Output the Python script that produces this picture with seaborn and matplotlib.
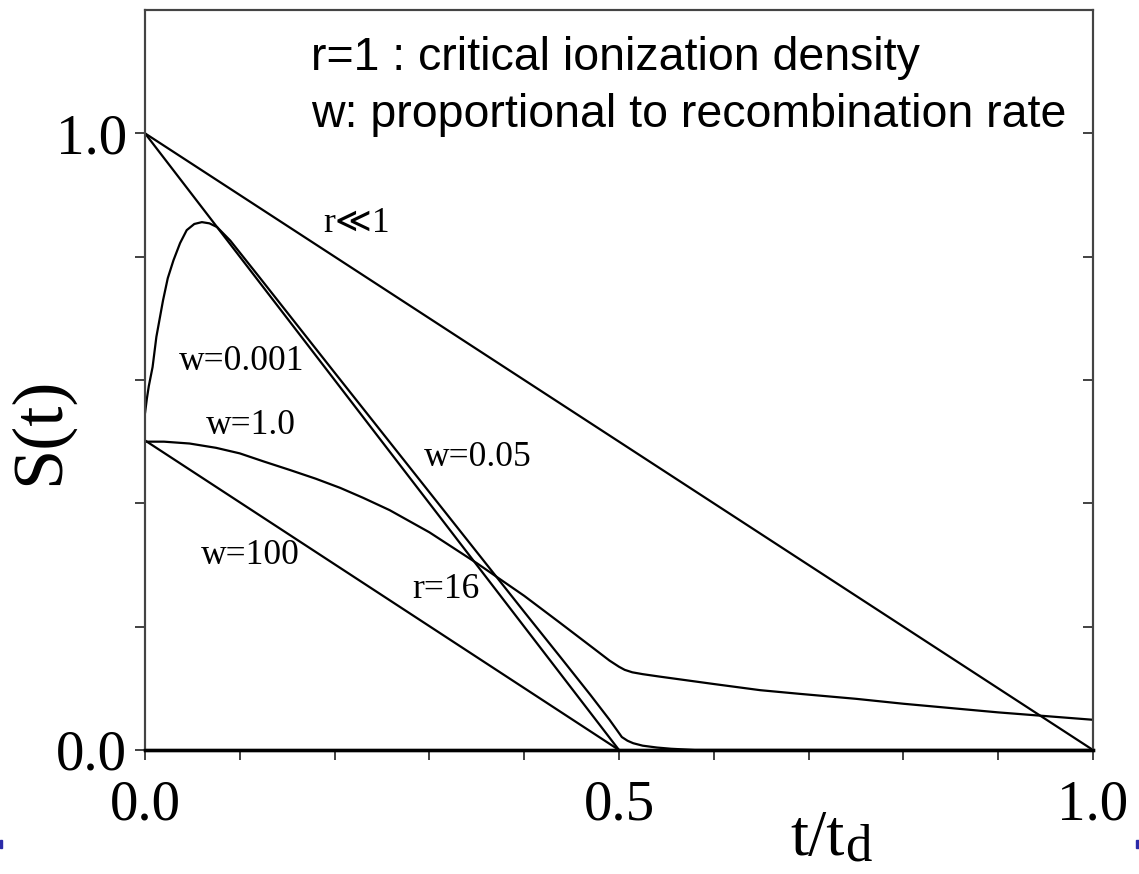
import matplotlib
matplotlib.use("Agg")
import matplotlib.pyplot as plt
import seaborn as sns
from matplotlib.ticker import FixedLocator, NullFormatter
from matplotlib.patches import Rectangle

# ---- data ----
t_r_ll1 = [0.0, 1.0]
s_r_ll1 = [1.0, 0.0]

t_w005 = [0.0, 0.5]
s_w005 = [1.0, 0.0]

t_w0001 = [0.0, 0.002, 0.004, 0.008, 0.012, 0.019, 0.024, 0.030, 0.037, 0.044, 0.052,
           0.060, 0.068, 0.076, 0.09, 0.12, 0.2, 0.3, 0.4,
           0.438, 0.47, 0.49, 0.497, 0.503, 0.509, 0.515, 0.525, 0.54, 0.555, 0.58, 1.0]
s_w0001 = [0.546, 0.57, 0.59, 0.621, 0.67, 0.729, 0.765, 0.794, 0.822, 0.843, 0.853,
           0.856, 0.854, 0.848, 0.826, 0.768, 0.612, 0.418, 0.224,
           0.151, 0.089, 0.049, 0.034, 0.021, 0.015, 0.011, 0.007, 0.004, 0.002, 0.0, 0.0]

t_w1 = [0.0, 0.02, 0.047, 0.075, 0.1, 0.125, 0.153, 0.18, 0.206, 0.23, 0.258, 0.3, 0.35,
        0.4, 0.438, 0.473, 0.49, 0.5, 0.506, 0.514, 0.525, 0.543, 0.6, 0.649, 0.691,
        0.75, 0.8, 0.9, 1.0]
s_w1 = [0.500, 0.500, 0.497, 0.490, 0.481, 0.468, 0.454, 0.440, 0.425, 0.409, 0.389,
        0.353, 0.303, 0.250, 0.206, 0.165, 0.145, 0.135, 0.130, 0.126, 0.123, 0.119,
        0.107, 0.097, 0.091, 0.083, 0.075, 0.061, 0.049]

t_w100 = [0.0, 0.5]
s_w100 = [0.502, 0.0]

curve_labels = ["r\u226a1", "w=0.001", "w=1.0", "w=0.05", "w=100", "r=16"]
label_x = [0.223, 0.102, 0.112, 0.351, 0.111, 0.317]
label_y = [0.853, 0.630, 0.527, 0.475, 0.316, 0.261]

x_major = [0.0, 0.5, 1.0]
x_major_labels = ["0.0", "0.5", "1.0"]
x_minor = [0.1, 0.2, 0.3, 0.4, 0.6, 0.7, 0.8, 0.9]
y_major = [0.0, 1.0]
y_major_labels = ["0.0", "1.0"]
y_minor = [0.2, 0.4, 0.6, 0.8]

note_lines = ["r=1 : critical ionization density",
              "w: proportional to recombination rate"]

# ---- style ----
sns.set_style("white")
plt.rcParams["font.family"] = ["Liberation Serif", "DejaVu Sans"]
plt.rcParams["text.color"] = "black"
plt.rcParams["xtick.color"] = "black"
plt.rcParams["ytick.color"] = "black"

fig = plt.figure(figsize=(11.39, 8.74), dpi=100)
ax = fig.add_axes([145 / 1139, 1 - 750 / 874, 948 / 1139, 740 / 874])

for tx, sy in [(t_r_ll1, s_r_ll1), (t_w005, s_w005), (t_w0001, s_w0001),
               (t_w1, s_w1), (t_w100, s_w100)]:
    sns.lineplot(x=tx, y=sy, ax=ax, color="black", linewidth=1.6, estimator=None)

ax.set_xlim(0, 1.0)
ax.set_ylim(0, 1.2)

ax.xaxis.set_major_locator(FixedLocator(x_major))
ax.set_xticklabels(x_major_labels)
ax.xaxis.set_minor_locator(FixedLocator(x_minor))
ax.yaxis.set_major_locator(FixedLocator(y_major))
ax.set_yticklabels(y_major_labels)
ax.yaxis.set_minor_locator(FixedLocator(y_minor))
ax.yaxis.set_minor_formatter(NullFormatter())

ax.tick_params(axis="both", which="both", direction="out", length=7, width=1.3,
               color="#333333", bottom=True, left=True, top=False, right=False)
ax.tick_params(axis="x", which="major", labelsize=41, pad=14)
ax.tick_params(axis="y", which="major", labelsize=41, pad=6)

# inward ticks on the right side
ax2 = ax.twinx()
ax2.set_ylim(ax.get_ylim())
ax2.yaxis.set_major_locator(FixedLocator(y_major + y_minor))
ax2.tick_params(axis="y", direction="in", length=7, width=1.3, color="#333333",
                labelright=False)
ax2.grid(False)

for a in (ax, ax2):
    for side in ["left", "right", "top"]:
        a.spines[side].set_color("#444444")
        a.spines[side].set_linewidth(1.5)
    a.spines["bottom"].set_color("black")
    a.spines["bottom"].set_linewidth(2.4)

# axis labels
ax.text(-0.110, 0.432, "S(t)", transform=ax.transAxes, rotation=90,
        ha="center", va="center", fontsize=52)
# x label "t/t_d": main part plus a lightly lowered subscript
ax.text(0.738, -0.1415, "t/t", transform=ax.transAxes, ha="right", va="baseline",
        fontsize=47)
ax.text(0.739, -0.1495, "d", transform=ax.transAxes, ha="left", va="baseline",
        fontsize=38)

# curve labels
for lab, lx, ly in zip(curve_labels, label_x, label_y):
    ax.text(lx, ly, lab, ha="center", va="center", fontsize=25.5,
            family=["Liberation Serif", "DejaVu Sans"])

# note
ax.text(0.175, 1.102, note_lines[0], ha="left", va="baseline", fontsize=33.5,
        family="Liberation Sans", color="black")
ax.text(0.175, 1.010, note_lines[1], ha="left", va="baseline", fontsize=33.5,
        family="Liberation Sans", color="black")

# small blue slide marks
fig.patches.append(Rectangle((0, 1 - 848 / 874), 2 / 1139, 8 / 874,
                             transform=fig.transFigure, color="#2a2aa8"))
fig.patches.append(Rectangle((1136 / 1139, 1 - 848 / 874), 3 / 1139, 8 / 874,
                             transform=fig.transFigure, color="#2a2aa8"))

fig.savefig("out.png", dpi=100)
